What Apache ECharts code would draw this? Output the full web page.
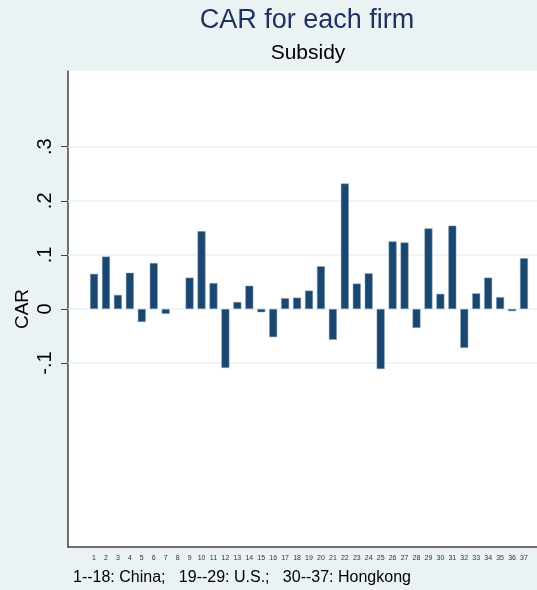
<!DOCTYPE html>
<html>
<head>
<meta charset="utf-8">
<script src="https://cdn.jsdelivr.net/npm/echarts@6/dist/echarts.min.js"></script>
<style>
html,body{margin:0;padding:0;background:#EAF2F3;}
#chart{width:537px;height:590px;}
</style>
</head>
<body>
<div id="chart"></div>
<script>
const firms = [1,2,3,4,5,6,7,8,9,10,11,12,13,14,15,16,17,18,19,20,21,22,23,24,25,26,27,28,29,30,31,32,33,34,35,36,37];
const carValues = [0.065,0.097,0.026,0.067,-0.024,0.085,-0.009,null,0.058,0.144,0.048,-0.109,0.013,0.043,-0.006,-0.052,0.020,0.021,0.034,0.079,-0.057,0.232,0.047,0.066,-0.111,0.125,0.123,-0.035,0.149,0.028,0.154,-0.072,0.029,0.058,0.022,-0.004,0.094];
const yTickValues = [-0.1,0,0.1,0.2,0.3];
const yTickLabels = ['-.1','0','.1','.2','.3'];
const titleText = 'CAR for each firm';
const subtitleText = 'Subsidy';
const noteText = '1--18: China;   19--29: U.S.;   30--37: Hongkong';
const yAxisName = 'CAR';

const chart = echarts.init(document.getElementById('chart'), null, {renderer:'canvas'});
const barData = firms.map((f,i)=>[f, carValues[i]]);
const fontFam = '"Liberation Sans", Arial, Helvetica, sans-serif';

chart.setOption({
  backgroundColor:'#EAF2F3',
  animation:false,
  textStyle:{fontFamily:fontFam},
  grid:{left:68, top:71, right:0, bottom:43, show:true, backgroundColor:'#ffffff', borderWidth:0, containLabel:false},
  graphic:[
    {type:'text', x:307, y:21, style:{text:titleText, font:'27px '+fontFam, fill:'#1E3160', align:'center', verticalAlign:'middle'}},
    {type:'text', x:308, y:53, style:{text:subtitleText, font:'21px '+fontFam, fill:'#000000', align:'center', verticalAlign:'middle'}},
    {type:'text', x:73, y:578, style:{text:noteText, font:'16px '+fontFam, fill:'#000000', align:'left', verticalAlign:'middle'}}
  ],
  xAxis:{
    type:'value', min:-1.18, max:38.09,
    axisLine:{show:true, onZero:false, lineStyle:{color:'#444', width:1.5}},
    axisTick:{show:false},
    splitLine:{show:false},
    axisLabel:{show:true, customValues:firms, fontSize:7, color:'#333', margin:8, formatter:v=>String(v)}
  },
  yAxis:{
    type:'value', min:-0.44, max:0.44,
    name:yAxisName, nameLocation:'middle', nameGap:36, nameRotate:90, nameMoveOverlap:false,
    nameTextStyle:{fontSize:19, color:'#000'},
    axisLine:{show:true, onZero:false, lineStyle:{color:'#444', width:1.5}},
    axisTick:{show:true, customValues:yTickValues, length:7, lineStyle:{color:'#444', width:1}},
    splitLine:{show:false},
    axisLabel:{show:true, customValues:yTickValues, rotate:90, fontSize:20, color:'#000', margin:13,
      formatter:function(v){ for(let i=0;i<yTickValues.length;i++){ if(Math.abs(yTickValues[i]-v)<1e-9) return yTickLabels[i]; } return ''; }}
  },
  series:[
    {type:'line', data:[], z:1, silent:true,
     markLine:{silent:true, z:1, symbol:['none','none'], label:{show:false},
       lineStyle:{color:'#EAF2F3', width:1.5, type:'solid'},
       data:yTickValues.map(v=>({yAxis:v}))}},
    {type:'bar', data:barData, barWidth:8, z:3,
     itemStyle:{color:'#1A476F', borderColor:'#8FA8BE', borderWidth:0.5}}
  ]
});
</script>
</body>
</html>
